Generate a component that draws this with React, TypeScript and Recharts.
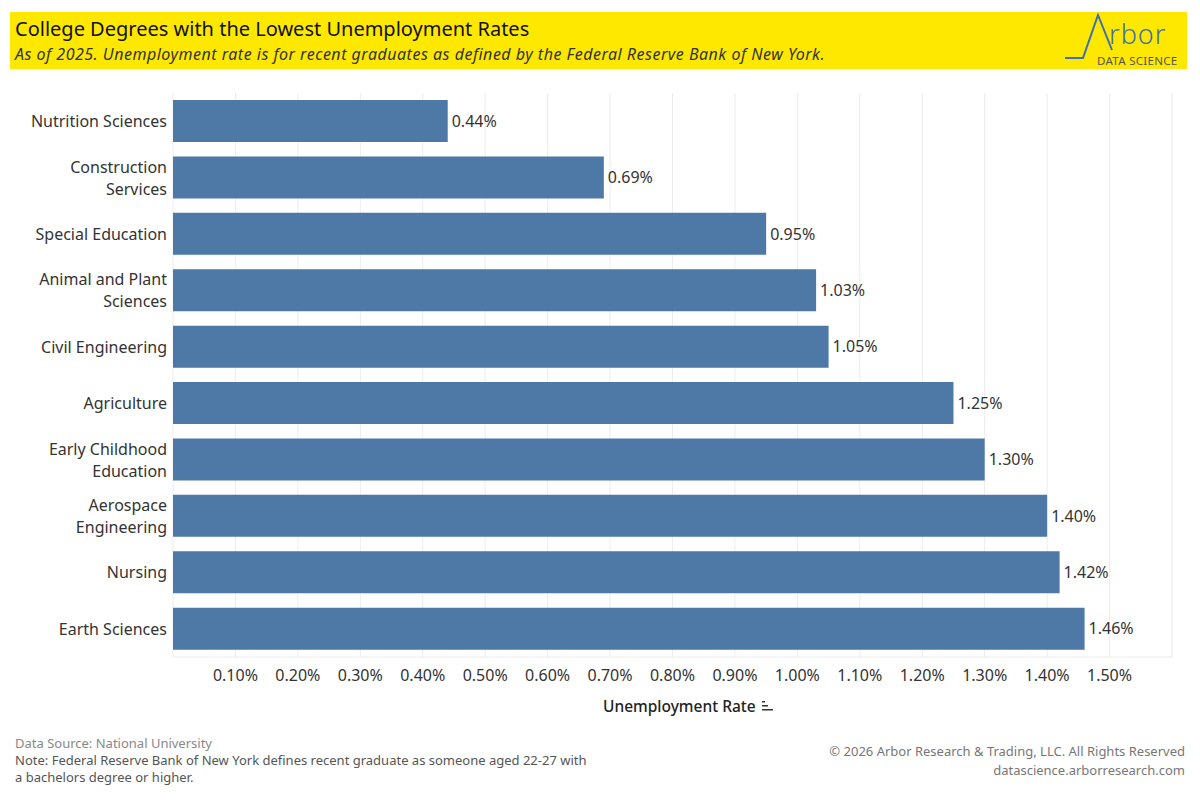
import React from 'react';
import { BarChart, Bar, XAxis, YAxis, CartesianGrid, LabelList } from 'recharts';

const categories = [
  'Nutrition Sciences',
  'Construction\nServices',
  'Special Education',
  'Animal and Plant\nSciences',
  'Civil Engineering',
  'Agriculture',
  'Early Childhood\nEducation',
  'Aerospace\nEngineering',
  'Nursing',
  'Earth Sciences',
];
const rates = [0.44, 0.69, 0.95, 1.03, 1.05, 1.25, 1.3, 1.4, 1.42, 1.46];
const xTicks = [0, 0.1, 0.2, 0.3, 0.4, 0.5, 0.6, 0.7, 0.8, 0.9, 1.0, 1.1, 1.2, 1.3, 1.4, 1.5, 1.6];

const data = categories.map((name, i) => ({ name, rate: rates[i] }));

const FONT = '"Noto Sans", "Open Sans", sans-serif';
const BAR = '#4e79a7';

const CategoryTick = ({ x, y, payload }: any) => {
  const lines = String(payload.value).split('\n');
  const lh = 22;
  const start = -((lines.length - 1) * lh) / 2;
  return (
    <text x={x + 2} y={y} textAnchor="end" fontFamily={FONT} fontSize={16} fill="#333">
      {lines.map((l, i) => (
        <tspan key={i} x={x + 2} dy={i === 0 ? start + 6 : lh}>
          {l}
        </tspan>
      ))}
    </text>
  );
};

const fmtTick = (v: number) => (v <= 0 || v >= 1.6 ? '' : v.toFixed(2) + '%');

export default function App() {
  return (
    <div style={{ position: 'absolute', left: 0, top: 0, width: 1200, height: 800, background: '#fff', fontFamily: FONT }}>
      {/* header band */}
      <div style={{ position: 'absolute', left: 10, top: 12, width: 1177, height: 57, background: '#ffe800' }} />
      <div style={{ position: 'absolute', left: 15, top: 15, fontSize: 20, color: '#111', whiteSpace: 'nowrap' }}>
        College Degrees with the Lowest Unemployment Rates
      </div>
      <div style={{ position: 'absolute', left: 15, top: 43, fontSize: 16, letterSpacing: 0.5, fontStyle: 'italic', color: '#333', whiteSpace: 'nowrap' }}>
        As of 2025. Unemployment rate is for recent graduates as defined by the Federal Reserve Bank of New York.
      </div>
      <svg style={{ position: 'absolute', left: 0, top: 0 }} width={1200} height={80}>
        <polyline points="1065,58 1083,58 1098,15 1112,50" fill="none" stroke="#3f6fb0" strokeWidth={2} />
        <text x={1109} y={44} fontFamily={FONT} fontSize={27} fill="#3f6fb0" fontWeight={300} letterSpacing={1}>rbor</text>
        <text x={1097} y={64.5} fontFamily={FONT} fontSize={11.5} fill="#555" letterSpacing={0.3}>DATA SCIENCE</text>
      </svg>

      <div style={{ position: 'absolute', left: 0, top: 0 }}>
        <BarChart
          width={1200}
          height={720}
          data={data}
          layout="vertical"
          margin={{ top: 93, right: 28, left: 0, bottom: 23 }}
          barCategoryGap="12.5%"
        >
          <CartesianGrid horizontal={false} stroke="#ececec" />
          <XAxis
            type="number"
            dataKey="rate"
            domain={[0, 1.6]}
            ticks={xTicks}
            tickFormatter={fmtTick}
            height={40}
            axisLine={{ stroke: '#ececec' }}
            tickLine={false}
            tick={{ fontFamily: FONT, fontSize: 16, fill: '#333' }}
            tickMargin={7}
          />
          <YAxis
            type="category"
            dataKey="name"
            width={173}
            axisLine={false}
            tickLine={false}
            tick={<CategoryTick />}
            interval={0}
          />
          <Bar dataKey="rate" fill={BAR} isAnimationActive={false}>
            <LabelList
              dataKey="rate"
              position="right"
              offset={4}
              formatter={(v: any) => Number(v).toFixed(2) + '%'}
              style={{ fontFamily: FONT, fontSize: 16, fill: '#333' }}
            />
          </Bar>
        </BarChart>
      </div>

      <div style={{ position: 'absolute', left: 603, top: 695, fontSize: 15.5, fontWeight: 500, color: '#222', whiteSpace: 'nowrap' }}>
        Unemployment Rate
        <svg width={14} height={12} style={{ marginLeft: 5 }}>
          <rect x={1} y={1} width={3} height={1.5} fill="#333" />
          <rect x={1} y={5} width={6} height={1.5} fill="#333" />
          <rect x={1} y={9} width={11} height={1.5} fill="#333" />
        </svg>
      </div>

      <div style={{ position: 'absolute', left: 15, top: 734, fontSize: 13, color: '#888', whiteSpace: 'nowrap' }}>
        Data Source: National University
      </div>
      <div style={{ position: 'absolute', left: 15, top: 752, width: 600, fontSize: 13, color: '#555', lineHeight: '17px' }}>
        Note: Federal Reserve Bank of New York defines recent graduate as someone aged 22-27 with
        <br />a bachelors degree or higher.
      </div>
      <div style={{ position: 'absolute', right: 15, top: 742, fontSize: 13, color: '#777', textAlign: 'right', lineHeight: '19px', whiteSpace: 'nowrap' }}>
        © 2026 Arbor Research &amp; Trading, LLC. All Rights Reserved
        <br />
        datascience.arborresearch.com
      </div>
    </div>
  );
}
